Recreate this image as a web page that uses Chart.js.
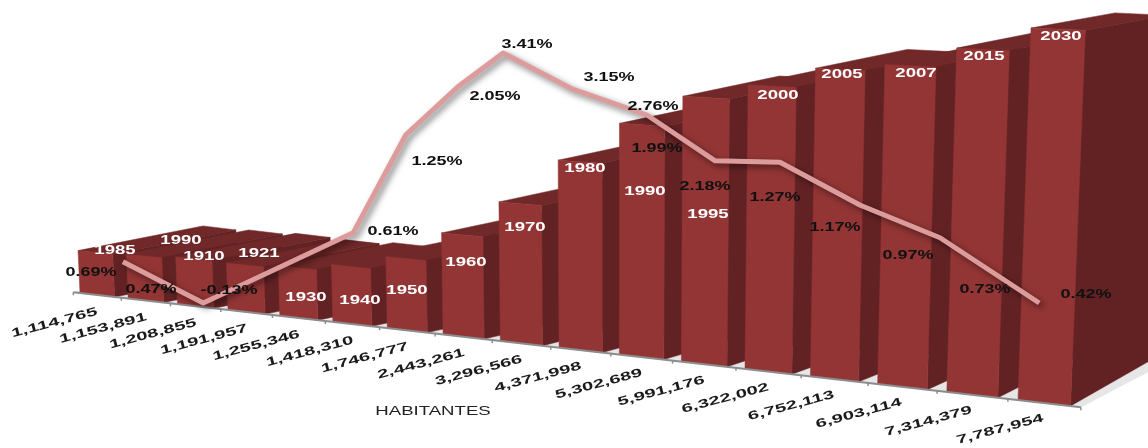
<!DOCTYPE html>
<html><head><meta charset="utf-8">
<style>html,body{margin:0;padding:0;background:#fff}canvas{display:block}</style>
<script src="https://cdn.jsdelivr.net/npm/chart.js@4"></script>
</head><body><canvas id="c" width="1148" height="448"></canvas>
<script>
const years = ['1985','1990','1910','1921','1930','1940','1950','1960','1970','1980','1990','1995','2000','2005','2007','2015','2030'];
const population = [1114765,1153891,1208855,1191957,1255346,1418310,1746777,2443261,3296566,4371998,5302689,5991176,6322002,6752113,6903114,7314379,7787954];
const growthLabels = ['0.69%','0.47%','-0.13%','0.61%','1.25%','2.05%','3.41%','3.15%','2.76%','1.99%','2.18%','1.27%','1.17%','0.97%','0.73%','0.42%'];
const lineAlong = [1.82,3.01,5.23,6.01,6.78,7.45,8.47,9.58,10.59,11.55,12.74,13.92,15.39];
const lineHeight = [0.44,-0.145,0.85,2.24,2.92,3.40,2.89,2.52,1.87,1.85,1.24,0.78,-0.145];
const axisTitle = 'HABITANTES';

// layout of the text labels (centres), kept apart from the data
const yearAt = [[115,251],[181,241],[204,257],[259,254],[306,298],[360,301],[407,291],[466,263],[525,228],[585,169],[645,192],[708,215],[778,96],[842,75],[916,74],[984,57],[1061,37]];
const growthAt = [[91,273],[151,290],[229,291],[393,232],[437,162],[495,97],[527,45],[609,78],[653,107],[657,149],[705,187],[775,198],[835,228],[908,256],[985,290],[1086,295]];
const FRONT='#933535', SIDE='#622224', TOP='#702829', FLOOR='#e6e6e6', AXIS='#8c8c8c';

// perspective: unit square -> picture quad
const quad=[[80,293],[1018,400],[1031,28],[66,-10]];
const H=(()=>{const [[x0,y0],[x1,y1],[x2,y2],[x3,y3]]=quad;
  const dx1=x1-x2,dx2=x3-x2,sx=x0-x1+x2-x3,dy1=y1-y2,dy2=y3-y2,sy=y0-y1+y2-y3,den=dx1*dy2-dx2*dy1;
  const g=(sx*dy2-dx2*sy)/den,h=(dx1*sy-sx*dy1)/den;
  return {a:x1-x0+g*x1,b:x3-x0+h*x3,c:x0,d:y1-y0+g*y1,e:y3-y0+h*y3,f:y0,g,h};})();
const warp=(u,v)=>{const w=H.g*u+H.h*v+1;return [(H.a*u+H.b*v+H.c)/w,(H.d*u+H.e*v+H.f)/w];};
const lerp=(p,q,t)=>p+(q-p)*t;
function back(pt,u,v,extra=1){
  const dx=lerp(125,84,u)*extra, floor=-.2-.325*u*u*u, s=lerp(floor,-.18,Math.min(1,v));
  return [pt[0]+dx,pt[1]+dx*s];
}
function poly(ctx,pts,color){ctx.beginPath();pts.forEach((p,i)=>i?ctx.lineTo(p[0],p[1]):ctx.moveTo(p[0],p[1]));ctx.closePath();ctx.fillStyle=color;ctx.fill();ctx.strokeStyle=color;ctx.lineWidth=.5;ctx.stroke();}
function label(ctx,t,x,y,size,sx,color,rot=0,weight='bold'){
  ctx.save();ctx.translate(x,y);ctx.rotate(rot);ctx.scale(sx,1);
  ctx.font=weight+' '+size+'px "Liberation Sans"';ctx.textAlign='center';ctx.textBaseline='middle';ctx.fillStyle=color;
  ctx.fillText(t,0,0);ctx.restore();
}
function mapper(chart){
  const bars=chart.getDatasetMeta(0).data, ys=chart.scales.y;
  const l0=bars[0].x-bars[0].width/2, l1=bars[16].x-bars[16].width/2;
  const y0=ys.getPixelForValue(0), y1=ys.getPixelForValue(population[16]);
  return {U:px=>(px-l0)/(l1-l0),V:py=>(y0-py)/(y0-y1),bars,y0};
}
const perspective={id:'perspective',
  beforeDatasetDraw(chart,args){
    if(args.index!==0){const c=chart.ctx;c.save();c.shadowColor='rgba(0,0,0,.5)';c.shadowBlur=6;c.shadowOffsetX=3;c.shadowOffsetY=3;return;}
    const ctx=chart.ctx,m=mapper(chart),xs=chart.scales.x,cell=xs.getPixelForValue(1)-xs.getPixelForValue(0);
    const tickPx=i=>xs.getPixelForValue(i)-cell/2;
    // floor
    const uL=m.U(tickPx(0)),uR=m.U(tickPx(17));
    const fl=warp(uL,0),fr=warp(uR,0);
    poly(ctx,[fl,fr,back(fr,1,0,1.1),back(fl,0,0,1.0)],FLOOR);
    // bars, left to right
    m.bars.forEach(el=>{
      const L=m.U(el.x-el.width/2),R=m.U(el.x+el.width/2),v=m.V(el.y),vb=m.V(el.base);
      const a=warp(L,vb),b=warp(R,vb),c=warp(R,v),d=warp(L,v);
      poly(ctx,[d,c,back(c,R,v),back(d,L,v)],TOP);
      poly(ctx,[b,c,back(c,R,v),back(b,R,vb)],SIDE);
      poly(ctx,[a,b,c,d],el.options.backgroundColor);
    });
    // category axis
    ctx.strokeStyle=AXIS;ctx.lineWidth=2;ctx.beginPath();ctx.moveTo(fl[0],fl[1]);ctx.lineTo(fr[0],fr[1]);ctx.stroke();
    ctx.lineWidth=1.5;
    for(let i=0;i<=17;i++){const p=warp(m.U(tickPx(i)),0);ctx.beginPath();ctx.moveTo(p[0],p[1]);ctx.lineTo(p[0],p[1]+3);ctx.stroke();}
    return false;
  },
  afterDatasetDraw(chart,args){ if(args.index!==0) chart.ctx.restore(); },
  afterDraw(chart){
    const ctx=chart.ctx,m=mapper(chart),xs=chart.scales.x,cell=xs.getPixelForValue(1)-xs.getPixelForValue(0);
    years.forEach((t,i)=>label(ctx,t,yearAt[i][0],yearAt[i][1],12,1.55,'#ffffff'));
    growthLabels.forEach((t,i)=>label(ctx,t,growthAt[i][0],growthAt[i][1],12,1.5,'#111111'));
    population.forEach((n,i)=>{
      const p=warp(m.U(xs.getPixelForValue(i)-cell/2),0);
      label(ctx,n.toLocaleString('en-US'),p[0]+lerp(-19,-8,i/16),p[1]+30.5,12,1.68,'#1a1a1a',-0.26);
    });
    label(ctx,axisTitle,433,412,12,1.55,'#222222',0,'normal');
  }
};
new Chart(document.getElementById('c'),{
  type:'bar',
  data:{labels:years,datasets:[
    {type:'bar',label:'Habitantes',data:population,backgroundColor:FRONT,order:2,barPercentage:.72,categoryPercentage:1,grouped:false,xAxisID:'x',yAxisID:'y'},
    {type:'line',label:'Crecimiento',data:lineAlong.map((x,i)=>({x,y:lineHeight[i]})),borderColor:'#dc9c9c',borderWidth:5,pointRadius:0,tension:0,borderCapStyle:'butt',borderJoinStyle:'round',order:1,xAxisID:'x2',yAxisID:'y2'}
  ]},
  plugins:[perspective],
  options:{responsive:false,animation:false,
    layout:{padding:0},
    plugins:{legend:{display:false},tooltip:{enabled:false}},
    scales:{
      x:{type:'category',display:false},
      y:{type:'linear',display:false,min:0,max:8000000},
      x2:{type:'linear',display:false,min:0,max:17,offset:false},
      y2:{type:'linear',display:false,min:-2.2,max:4.15}
    }}
});
</script></body></html>
